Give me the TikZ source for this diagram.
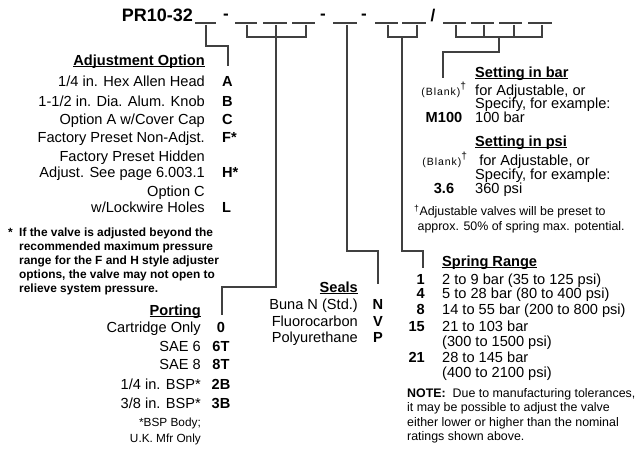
\documentclass[tikz,border=0pt]{standalone}
\usepackage{fontspec}
\setmainfont{Liberation Sans}
\usetikzlibrary{positioning}

\newcommand{\ulhead}[1]{\setbox0\hbox{\bfseries #1}\rlap{\rule[-2.2pt]{\wd0}{1.1pt}}\box0}
\newcommand{\blank}{{\fontsize{10.5}{12}\selectfont\addfontfeatures{LetterSpace=9}(Blank)}\textsuperscript{\textdagger}}

\begin{document}
\begin{tikzpicture}[x=1pt, y=-1pt,
  txt/.style={font=\fontsize{14.6}{16}\selectfont, inner sep=0pt},
  code/.style={font=\fontsize{14.6}{16}\selectfont\bfseries, inner sep=0pt},
  note/.style={font=\fontsize{12.4}{14.5}\selectfont, inner sep=0pt, align=left},
  link/.style={draw=black!75, line width=1.1pt}]
\useasboundingbox[fill=white] (0,0) rectangle (636,450);

% part number
\node[font=\fontsize{18}{18}\selectfont\bfseries, inner sep=0pt, anchor=base east] (title) at (193,21) {PR10-32};
\node[code, font=\fontsize{17}{18}\selectfont\bfseries] (dash1) at (226,17) {-};
\node[code, font=\fontsize{17}{18}\selectfont\bfseries] (dash2) at (323,17) {-};
\node[code, font=\fontsize{17}{18}\selectfont\bfseries] (dash3) at (364,17) {-};
\node[code, font=\fontsize{17}{18}\selectfont\bfseries] (slash) at (433,16) {/};
\foreach \a/\b in {195/216, 235/257, 263/287, 292/315, 333/357, 375/398, 402/426,
                   443/466, 471/494, 499/522, 528/552}
  \draw[link] (\a,23) -- (\b,23);

% tick points under the blanks
\coordinate (tadj) at (206,25);
\coordinate (tp1) at (247,25); \coordinate (tp2) at (276,25); \coordinate (tp3) at (306,25);
\coordinate (tseal) at (347,25);
\coordinate (ts1) at (388,25); \coordinate (ts2) at (417,25);
\coordinate (tb1) at (456,25); \coordinate (tb2) at (484,25);
\coordinate (tb3) at (514,25); \coordinate (tb4) at (542,25);

% adjustment option
\node[txt, anchor=base east] (adjhead) at (205,65) {\ulhead{Adjustment Option}};
\node[txt, anchor=base east] (adj1) at (205,86) {1/4 in. Hex Allen Head};
\node[txt, anchor=base east] (adj2) at (205,106) {1-1/2 in. Dia. Alum. Knob};
\node[txt, anchor=base east] (adj3) at (205,124) {Option A w/Cover Cap};
\node[txt, anchor=base east] (adj4) at (205,142) {Factory Preset Non-Adjst.};
\node[txt, anchor=base east] (adj5a) at (205,161) {Factory Preset Hidden};
\node[txt, anchor=base east] (adj5) at (205,177) {Adjust. See page 6.003.1};
\node[txt, anchor=base east] (adj6a) at (205,196) {Option C};
\node[txt, anchor=base east] (adj6) at (205,212) {w/Lockwire Holes};
\node[code, anchor=base west] (cA) at (222,86) {A};
\node[code, anchor=base west] (cB) at (222,106) {B};
\node[code, anchor=base west] (cC) at (222,124) {C};
\node[code, anchor=base west] (cF) at (222,142) {F*};
\node[code, anchor=base west] (cH) at (222,177) {H*};
\node[code, anchor=base west] (cL) at (222,212) {L};
\coordinate (eadj) at (228,66);
\draw[link] (tadj) |- (228,46) -- (eadj);

\node[font=\fontsize{11.9}{14}\selectfont\bfseries, inner sep=0pt, anchor=base west] (star) at (8,236.5) {*};
\node[font=\fontsize{11.9}{14}\selectfont\bfseries, inner sep=0pt, align=left, anchor=base west] (warn) at (19,292.5)
  {If the valve is adjusted beyond the\\recommended maximum pressure\\range for the F and H style adjuster\\options, the valve may not open to\\relieve system pressure.};

% porting
\node[txt, anchor=base east] (porthead) at (201,315) {\ulhead{Porting}};
\node[txt, anchor=base east] (port1) at (201,332) {Cartridge Only};
\node[txt, anchor=base east] (port2) at (201,351) {SAE 6};
\node[txt, anchor=base east] (port3) at (201,369) {SAE 8};
\node[txt, anchor=base east] (port4) at (201,389) {1/4 in. BSP*};
\node[txt, anchor=base east] (port5) at (201,408) {3/8 in. BSP*};
\node[code, anchor=base] (c0) at (221,332) {0};
\node[code, anchor=base] (c6T) at (221,351) {6T};
\node[code, anchor=base] (c8T) at (221,369) {8T};
\node[code, anchor=base] (c2B) at (221,389) {2B};
\node[code, anchor=base] (c3B) at (221,408) {3B};
\node[note, font=\fontsize{11.8}{15.5}\selectfont, align=right, anchor=base east] (bsp) at (201,442) {*BSP Body;\\U.K. Mfr Only};
\coordinate (eport) at (222,315);
\draw[link] (tp1) -- (247,37) -- (306,37) -- (tp3);
\draw[link] (tp2) -- (276,287) -| (eport);

% seals
\node[txt, anchor=base east] (sealhead) at (358,292) {\ulhead{Seals}};
\node[txt, anchor=base east] (seal1) at (358,309) {Buna N (Std.)};
\node[txt, anchor=base east] (seal2) at (358,326) {Fluorocarbon};
\node[txt, anchor=base east] (seal3) at (358,342) {Polyurethane};
\node[code, anchor=base] (cN) at (378,309) {N};
\node[code, anchor=base] (cV) at (378,326) {V};
\node[code, anchor=base] (cP) at (378,342) {P};
\coordinate (eseal) at (378,284);
\draw[link] (tseal) |- (378,251) -- (eseal);

% spring range
\node[txt, anchor=base west] (springhead) at (442,266) {\ulhead{Spring Range}};
\node[code, anchor=base east] (c1) at (425,284) {1};
\node[code, anchor=base east] (c4) at (425,298) {4};
\node[code, anchor=base east] (c8) at (425,314) {8};
\node[code, anchor=base east] (c15) at (425,331) {15};
\node[code, anchor=base east] (c21) at (425,362) {21};
\node[txt, anchor=base west] (spr1) at (442,284) {2 to 9 bar (35 to 125 psi)};
\node[txt, anchor=base west] (spr2) at (442,298) {5 to 28 bar (80 to 400 psi)};
\node[txt, anchor=base west] (spr3) at (442,314) {14 to 55 bar (200 to 800 psi)};
\node[txt, anchor=base west] (spr4) at (442,331) {21 to 103 bar};
\node[txt, anchor=base west] (spr4b) at (442,346) {(300 to 1500 psi)};
\node[txt, anchor=base west] (spr5) at (442,362) {28 to 145 bar};
\node[txt, anchor=base west] (spr5b) at (442,377) {(400 to 2100 psi)};
\node[note, anchor=base west] (tol) at (407,440.5)
  {\textbf{NOTE:}\ \ Due to manufacturing tolerances,\\it may be possible to adjust the valve\\either lower or higher than the nominal\\ratings shown above.};
\coordinate (espring) at (423,268);
\draw[link] (ts1) -- (388,37) -- (417,37) -- (ts2);
\draw[link] (402,37) |- (423,251) -- (espring);

% pressure setting
\node[txt, anchor=base west] (barhead) at (475,77) {\ulhead{Setting in bar}};
\node[txt, anchor=base, inner sep=0pt] (bl1) at (444,95) {\blank};
\node[txt, anchor=base west] (bar1) at (475,95) {for Adjustable, or};
\node[txt, anchor=base west] (bar2) at (475,108) {Specify, for example:};
\node[code, anchor=base] (cM100) at (444,122) {M100};
\node[txt, anchor=base west] (bar3) at (475,122) {100 bar};
\node[txt, anchor=base west] (psihead) at (475,146) {\ulhead{Setting in psi}};
\node[txt, anchor=base] (bl2) at (445,165) {\blank};
\node[txt, anchor=base west] (psi1) at (475,165) {\ for Adjustable, or};
\node[txt, anchor=base west] (psi2) at (475,179) {Specify, for example:};
\node[code, anchor=base] (c36) at (444,193) {3.6};
\node[txt, anchor=base west] (psi3) at (475,193) {360 psi};
\node[note, anchor=base west] (preset) at (414,230)
  {\textsuperscript{\textdagger}Adjustable valves will be preset to\\\ approx. 50\% of spring max. potential.};
\coordinate (eset) at (443,78);
\draw[link] (tb1) -- (456,37) -- (542,37) -- (tb4);
\draw[link] (tb2) -- (484,37); \draw[link] (tb3) -- (514,37);
\draw[link] (499,37) |- (443,52) -- (eset);
\end{tikzpicture}
\end{document}
